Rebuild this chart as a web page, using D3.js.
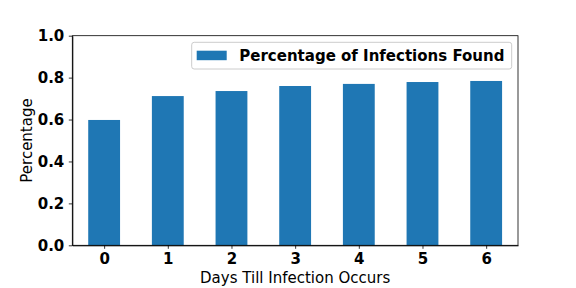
<!DOCTYPE html>
<html>
<head>
<meta charset="utf-8">
<script src="https://cdn.jsdelivr.net/npm/d3@7"></script>
<style>
  body { margin: 0; background: #fff; }
  svg { font-family: "DejaVu Sans", sans-serif; }
</style>
</head>
<body>
<div id="chart"></div>
<script>
const days = ["0", "1", "2", "3", "4", "5", "6"];
const pctFound = [0.598, 0.712, 0.736, 0.760, 0.770, 0.779, 0.784];
const yTicks = [0.0, 0.2, 0.4, 0.6, 0.8, 1.0];
const seriesName = "Percentage of Infections Found";

let w = 576, h = 288;
let plotLeft = 72.3, plotRight = 518, plotTop = 35.7, plotBottom = 245.3;

const svg = d3.select("#chart").append("svg")
  .attr("width", w).attr("height", h);

// linear x like matplotlib: -0.5 .. 6.5
let xScale = d3.scaleLinear().domain([-0.5, days.length - 0.5]).range([plotLeft, plotRight]);
let yScale = d3.scaleLinear().domain([0, 1]).range([plotBottom, plotTop]);

svg.selectAll("rect.bar")
  .data(pctFound)
  .enter()
  .append("rect")
  .attr("class", "bar")
  .attr("x", (d, i) => xScale(i - 0.25))
  .attr("width", (d, i) => xScale(i + 0.25) - xScale(i - 0.25))
  .attr("y", d => yScale(d))
  .attr("height", d => yScale(0) - yScale(d))
  .style("fill", "#1f77b4");

const xAxis = d3.axisBottom(xScale)
  .tickValues(d3.range(days.length))
  .tickFormat(i => days[i])
  .tickSize(3.5).tickPadding(4.5).tickSizeOuter(0);
const yAxis = d3.axisLeft(yScale)
  .tickValues(yTicks)
  .tickFormat(d3.format(".1f"))
  .tickSize(3.5).tickPadding(4.5).tickSizeOuter(0);

let gx = svg.append("g").attr("transform", "translate(0," + plotBottom + ")").call(xAxis);
let gy = svg.append("g").attr("transform", "translate(" + plotLeft + ",0)").call(yAxis);

[gx, gy].forEach(g => {
  g.attr("font-family", "DejaVu Sans").attr("font-size", 15);
  g.selectAll(".tick text")
    .attr("font-weight", "bold")
    .attr("font-size", 15)
    .attr("fill", "#000");
  g.selectAll(".tick line").attr("stroke", "#000").attr("stroke-width", 0.8);
});

// frame
svg.append("rect")
  .attr("x", plotLeft).attr("y", plotTop)
  .attr("width", plotRight - plotLeft).attr("height", plotBottom - plotTop)
  .style("fill", "none").style("stroke", "#000").style("stroke-width", 0.8);

svg.append("text")
  .attr("x", (plotLeft + plotRight) / 2).attr("y", 283)
  .attr("text-anchor", "middle")
  .style("font-size", "15px")
  .text("Days Till Infection Occurs");

svg.append("text")
  .attr("transform", "translate(32," + ((plotTop + plotBottom) / 2) + ") rotate(-90)")
  .attr("text-anchor", "middle")
  .style("font-size", "15px")
  .text("Percentage");

// legend
const legend = svg.append("g");
legend.append("rect")
  .attr("x", 191.7).attr("y", 42.3).attr("width", 320).attr("height", 26.7)
  .attr("rx", 2.5)
  .style("fill", "#fff").style("fill-opacity", 0.8)
  .style("stroke", "#ccc").style("stroke-width", 1);
legend.append("rect")
  .attr("x", 196.7).attr("y", 50.7).attr("width", 30).attr("height", 9.5)
  .style("fill", "#1f77b4");
legend.append("text")
  .attr("x", 239.3).attr("y", 61)
  .style("font-size", "15px").style("font-weight", "bold")
  .text(seriesName);
</script>
</body>
</html>
